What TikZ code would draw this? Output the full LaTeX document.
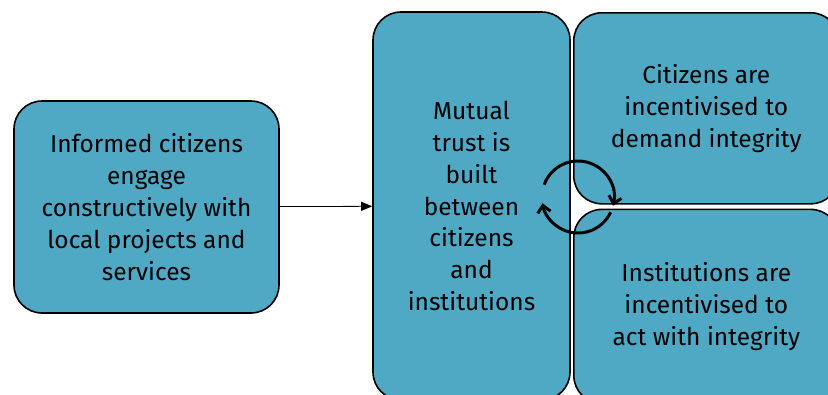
\documentclass[tikz,border=0pt]{standalone}
\usepackage{fontspec}
\setmainfont{Fira Sans}
\usetikzlibrary{positioning,arrows.meta}
\definecolor{boxteal}{RGB}{80,169,196}

\begin{document}
\begin{tikzpicture}[x=1pt, y=-1pt,
  box/.style={draw=black, line width=1.6pt, rounded corners=28pt, fill=boxteal, align=center, inner sep=0pt, font=\fontsize{24.5}{31.8}\selectfont},
  arr/.style={-{Triangle[length=11pt, width=9pt]}, line width=0.8pt},
  cycle arr/.style={-{Straight Barb[length=7pt, width=13pt]}, line width=3pt},
  node distance=4pt
]
  \useasboundingbox (0,0) rectangle (828,394);
  \clip (0,0) rectangle (828,394);

  \node[box, minimum width=265pt, minimum height=212pt] (engage) at (146.5,207)
    {Informed citizens\\engage\\constructively with\\local projects and\\services};
  \node[box, minimum width=197pt, minimum height=388pt] (trust) at (471.5,206)
    {Mutual\\trust is\\built\\between\\citizens\\and\\institutions};
  \node[box, minimum width=265pt, minimum height=191pt, anchor=north west] (demand) at (573,12)
    {Citizens are\\incentivised to\\demand integrity};
  \node[box, minimum width=265pt, minimum height=194pt, below=4pt of demand] (act)
    {Institutions are\\incentivised to\\act with integrity};

  \draw[arr] (engage) -- (trust);

  % feedback loop between the two incentives
  \coordinate (loop) at (578,197);
  \draw[cycle arr] ([shift={(-160:36)}]loop) arc[start angle=-160, end angle=14, radius=36];
  \draw[cycle arr] ([shift={(25:36)}]loop) arc[start angle=25, end angle=170, radius=36];
\end{tikzpicture}
\end{document}
